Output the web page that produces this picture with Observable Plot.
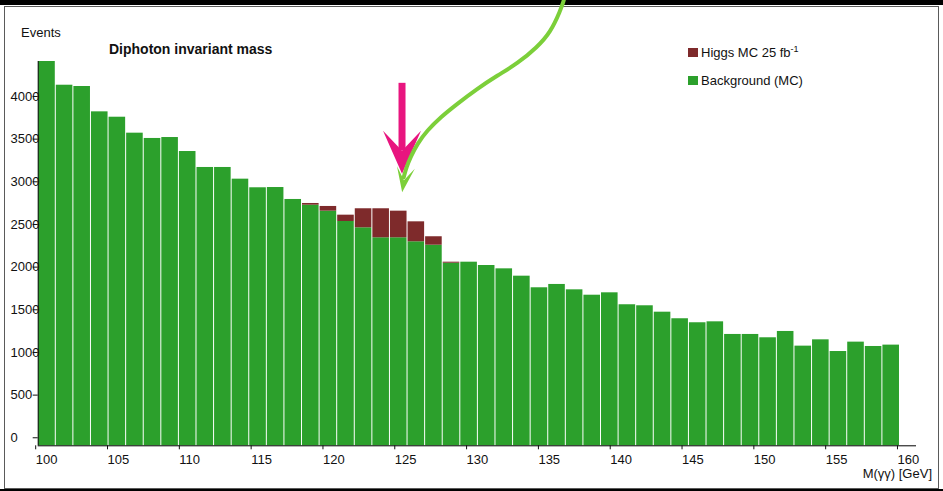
<!DOCTYPE html>
<html>
<head>
<meta charset="utf-8">
<script src="https://cdn.jsdelivr.net/npm/d3@7"></script>
<script src="https://cdn.jsdelivr.net/npm/@observablehq/plot@0.6"></script>
<style>
  html, body { margin: 0; padding: 0; background: #fff; }
  #page { position: relative; width: 943px; height: 491px; overflow: hidden;
          font-family: "Liberation Sans", Arial, Helvetica, sans-serif; color: #111; }
  .band { position: absolute; left: 0; width: 943px; background: #000; }
  #box { position: absolute; left: 4px; top: 6px; width: 935px; height: 483px;
         box-sizing: border-box; border: 1px solid #5a5a5a; }
  .lbl { position: absolute; font-size: 13px; line-height: 13px; white-space: nowrap; }
  #title { font-weight: bold; font-size: 14px; line-height: 14px; }
  .sw { position: absolute; width: 10px; height: 9px; }
  sup { font-size: 9px; line-height: 0; vertical-align: 5px; }
  svg { position: absolute; left: 0; top: 0; }
</style>
</head>
<body>
<div id="page">
  <div class="band" style="top:0;height:5px"></div>
  <div class="band" style="top:489px;height:2px"></div>
  <div id="box"></div>
  <div class="lbl" style="left:21px;top:26px">Events</div>
  <div class="lbl" id="title" style="left:109px;top:42px">Diphoton invariant mass</div>
  <div class="sw" style="left:688px;top:48px;background:#7e2a2b"></div>
  <div class="lbl" style="left:701px;top:46px">Higgs MC 25 fb<sup>-1</sup></div>
  <div class="sw" style="left:688px;top:76px;background:#2ca02c"></div>
  <div class="lbl" style="left:701px;top:74px">Background (MC)</div>
  <div class="lbl" style="right:11px;top:467px">M(γγ) [GeV]</div>
</div>
<script>
// Diphoton mass spectrum: simulated background with the Higgs signal stacked on top.
const massMin = 100;
const massMax = 160;
const xAxisEnd = 161.15;   // axis line runs a little past the last bin
const baseGap = 94;        // the x axis sits slightly below the zero tick

const background = [
  4410, 4132, 4117, 3820, 3757, 3570, 3508, 3519, 3355, 3168,
  3168, 3031, 2930, 2933, 2793, 2726, 2656, 2535, 2461, 2344,
  2344, 2297, 2257, 2046, 2058, 2019, 1980, 1894, 1758, 1797,
  1734, 1671, 1699, 1559, 1547, 1472, 1395, 1348, 1359, 1211,
  1211, 1172, 1246, 1074, 1148, 1011, 1121, 1070, 1086
];
const higgs = [
  0, 0, 0, 0, 0, 0, 0, 0, 0, 0,
  0, 0, 0, 0, 0, 20, 55, 74, 223, 340,
  312, 234, 99, 12, 0, 0, 0, 0, 0, 0,
  0, 0, 0, 0, 0, 0, 0, 0, 0, 0,
  0, 0, 0, 0, 0, 0, 0, 0, 0
];
const yTicks = [0, 500, 1000, 1500, 2000, 2500, 3000, 3500, 4000];
const xTicks = [100, 105, 110, 115, 120, 125, 130, 135, 140, 145, 150, 155, 160];

// Annotation arrows pointing at the signal peak (GeV, events)
const pinkShaft = [{x: 125.33, y: 4160}, {x: 125.33, y: 3369}];
const pinkTip = [{x: 125.33, y: 3094}];
const greenPath = [
  {x: 136.59, y: 5125}, {x: 136.36, y: 5008}, {x: 135.67, y: 4753},
  {x: 134.74, y: 4578}, {x: 133.35, y: 4383}, {x: 131.96, y: 4246},
  {x: 130.56, y: 4090}, {x: 129.17, y: 3914}, {x: 128.01, y: 3757},
  {x: 127.08, y: 3601}, {x: 126.39, y: 3445}, {x: 125.92, y: 3288},
  {x: 125.64, y: 3171}, {x: 125.45, y: 3054}
];
const greenTip = [{x: 125.34, y: 2878}];

const green = "#2ca02c";
const maroon = "#7e2a2b";

const binWidth = (massMax - massMin) / background.length;
const bins = background.map((b, i) => ({
  x1: massMin + i * binWidth,
  x2: massMin + (i + 1) * binWidth,
  bg: b,
  sig: higgs[i],
  total: b + higgs[i]
}));
const yMax = d3.max(bins, d => d.total);

// Barbed arrowhead with its tip at the origin, pointing down, optionally tilted
function arrowHead(w, len, notch, tiltDeg) {
  const a = tiltDeg * Math.PI / 180, c = Math.cos(a), s = Math.sin(a);
  const rot = (x, y) => [x * c - y * s, x * s + y * c];
  return {
    draw(ctx, size) {
      const k = Math.sqrt(size / Math.PI);
      const pts = [[0, 0], [w, -len], [0, -notch], [-w, -len]].map(([x, y]) => rot(x * k, y * k));
      ctx.moveTo(...pts[0]);
      for (const p of pts.slice(1)) ctx.lineTo(...p);
      ctx.closePath();
    }
  };
}

const chart = Plot.plot({
  width: 943,
  height: 491,
  marginLeft: 37.7,
  marginRight: 27,
  marginTop: 61,
  marginBottom: 45.7,
  style: {
    fontFamily: "'Liberation Sans', Arial, Helvetica, sans-serif",
    fontSize: "13px",
    background: "transparent",
    color: "#111",
    overflow: "visible"
  },
  x: {domain: [massMin, xAxisEnd]},
  y: {domain: [-baseGap, yMax]},
  marks: [
    Plot.rect(bins, {x1: "x1", x2: "x2", y1: 0, y2: "bg", fill: green,
      insetLeft: 0.5, insetRight: 0.5, insetBottom: -8}),
    Plot.rect(bins.filter(d => d.sig > 0), {x1: "x1", x2: "x2", y1: "bg", y2: "total",
      fill: maroon, insetLeft: 0.5, insetRight: 0.5}),
    Plot.ruleX([massMin], {stroke: "#000"}),
    Plot.ruleY([-baseGap], {stroke: "#000"}),
    Plot.axisY({ticks: yTicks, tickSize: 5, tickFormat: () => "", label: null}),
    Plot.text(yTicks, {y: d => d, text: d => String(d), frameAnchor: "left",
      dx: -27.7, textAnchor: "start", fontSize: 13, fill: "#111"}),
    Plot.axisX({ticks: xTicks, tickSize: 4, tickPadding: 4.5, label: null, fontSize: 13,
      textAnchor: "start", dx: -2.5}),
    Plot.line(pinkShaft, {x: "x", y: "y", stroke: "#e8157f", strokeWidth: 7, strokeLinecap: "butt"}),
    Plot.dot(pinkTip, {x: "x", y: "y", r: 1, symbol: arrowHead(19, 43, 23, 0), fill: "#e8157f", stroke: "none"}),
    Plot.line(greenPath, {x: "x", y: "y", stroke: "#7ccf3a", strokeWidth: 4, curve: "basis"}),
    Plot.dot(greenTip, {x: "x", y: "y", r: 1, symbol: arrowHead(9, 25, 12, 8.6), fill: "#7ccf3a", stroke: "none"})
  ]
});

document.getElementById("page").appendChild(chart);
</script>
</body>
</html>
